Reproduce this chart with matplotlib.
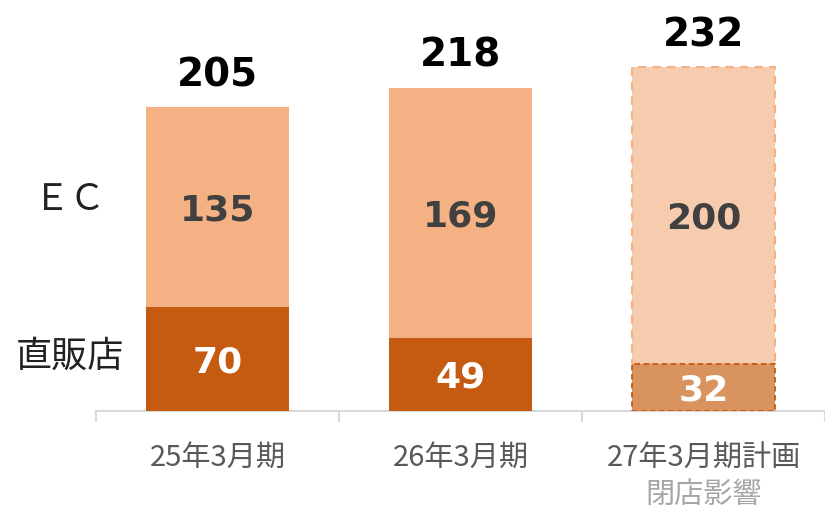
import matplotlib
matplotlib.use("Agg")
import matplotlib.pyplot as plt
import matplotlib.transforms as mtransforms

categories = ["25年3月期", "26年3月期", "27年3月期計画"]
direct_store = [70, 49, 32]
ec = [135, 169, 200]
totals = [205, 218, 232]
series_labels = ["ＥＣ", "直販店"]
sub_label = "閉店影響"

W, H = 825, 513
fig = plt.figure(figsize=(W / 100, H / 100), dpi=100)
px_per_cat = 245
left_px, base_px = 96, 411
ax = fig.add_axes([left_px / W, (H - base_px) / H, (W - left_px) / W, base_px / H])
ax.set_xlim(-0.5, -0.5 + (W - left_px) / px_per_cat)
ax.set_ylim(0, base_px / 1.483)

cjk = ["Noto Sans CJK JP", "DejaVu Sans"]
num_font = "DejaVu Sans"

bw = 144 / px_per_cat
bottom_col = ["#C55A11", "#C55A11", "#D8935F"]
top_col = ["#F4B183", "#F4B183", "#F7CBAD"]
x = list(range(len(categories)))

for i in x:
    plan = i == 2
    ax.bar(i, direct_store[i], width=bw, color=bottom_col[i],
           edgecolor="#C55A11" if plan else "none",
           linestyle=(0, (3, 2)) if plan else "-", linewidth=1.3 if plan else 0, zorder=3)
    ax.bar(i, ec[i], bottom=direct_store[i], width=bw, color=top_col[i],
           edgecolor="#F4B183" if plan else "none",
           linestyle=(0, (4, 3)) if plan else "-", linewidth=1.5 if plan else 0, zorder=2)
    ax.annotate(str(direct_store[i]), (i, direct_store[i] / 2), xytext=(0, -9.4),
                textcoords="offset points", ha="center", va="baseline",
                fontsize=26, fontweight="bold", color="white", family=num_font, zorder=5)
    ax.annotate(str(ec[i]), (i, direct_store[i] + ec[i] / 2), xytext=(0, -9.4),
                textcoords="offset points", ha="center", va="baseline",
                fontsize=26, fontweight="bold", color="#404040", family=num_font, zorder=5)
    ax.annotate(str(totals[i]), (i, direct_store[i] + ec[i]), xytext=(0, 15),
                textcoords="offset points", ha="center", va="baseline",
                fontsize=28, fontweight="bold", color="black", family=num_font, zorder=5)

for s in ["top", "right", "left"]:
    ax.spines[s].set_visible(False)
ax.spines["bottom"].set_color("#D9D9D9")
ax.spines["bottom"].set_linewidth(1.5)
ax.set_yticks([])
ax.set_xticks([-0.5, 0.5, 1.5, 2.5])
ax.set_xticklabels([])
ax.tick_params(axis="x", direction="out", length=8, width=1.5, color="#D9D9D9")

trans = mtransforms.blended_transform_factory(ax.transData, fig.transFigure)
for i, c in enumerate(categories):
    ax.text(i, 1 - 458 / H, c, transform=trans, ha="center", va="center",
            fontsize=21, color="#595959", family=cjk)
ax.text(2, 1 - 495 / H, sub_label, transform=trans, ha="center", va="center",
        fontsize=21, color="#A6A6A6", family=cjk)

fig.text(70 / W, 1 - 200 / H, series_labels[0], ha="center", va="center",
         fontsize=26, color="#222222", family=cjk)
fig.text(70 / W, 1 - 357 / H, series_labels[1], ha="center", va="center",
         fontsize=26, color="#222222", family=cjk)

fig.savefig("out.png", dpi=100)
